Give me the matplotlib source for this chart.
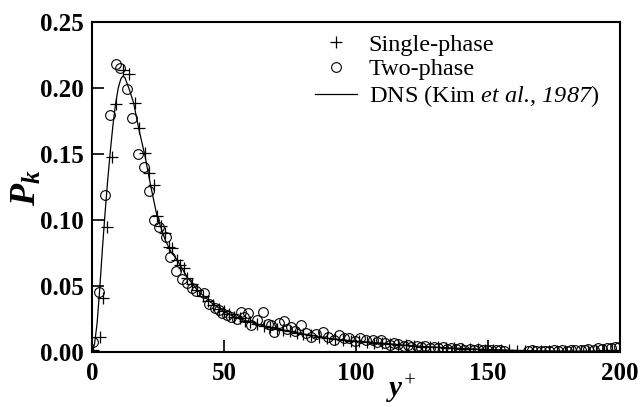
import matplotlib
matplotlib.use('Agg')
import matplotlib.pyplot as plt

plt.rcParams['font.family'] = ['Liberation Serif', 'DejaVu Serif']
plt.rcParams['mathtext.fontset'] = 'custom'
plt.rcParams['mathtext.rm'] = 'Liberation Serif'
plt.rcParams['mathtext.it'] = 'Liberation Serif:italic'
plt.rcParams['mathtext.sf'] = 'Liberation Serif:italic'
plt.rcParams['mathtext.bf'] = 'Liberation Serif:bold'
plt.rcParams['mathtext.bfit'] = 'Liberation Serif:italic:bold'

# DNS reference curve (Kim et al., 1987)
dns_y = [0, 1, 2, 3, 4, 5, 6, 7, 8, 9, 10, 11, 11.7, 12.5, 14, 15.8, 17.7,
         20.2, 22.2, 24.7, 27.8, 30, 32.3, 36.1, 40, 45, 50, 55, 60, 65, 70,
         75, 80, 90, 100, 110, 120, 130, 140, 150, 160, 170, 180, 190, 200]
dns_pk = [0, 0.006, 0.022, 0.048, 0.078, 0.105, 0.13, 0.152, 0.172, 0.188,
          0.2, 0.207, 0.209, 0.208, 0.2, 0.189, 0.170, 0.148, 0.127, 0.103,
          0.085, 0.076, 0.070, 0.057, 0.047, 0.038, 0.031, 0.026, 0.023,
          0.020, 0.018, 0.016, 0.014, 0.0105, 0.0085, 0.007, 0.0052, 0.004,
          0.003, 0.0022, 0.0016, 0.0012, 0.001, 0.0009, 0.0008]

# single-phase LES (plus markers)
sp_y = [0.5, 3, 4.3, 5.8, 7.5, 9.1, 11.9, 14.2, 16.5, 17.7, 20.2, 21.5, 23.4,
        24.7, 26.2, 27.8, 29.2, 30.4, 32.3, 33.5, 34.8, 36.1, 38, 40, 42, 44,
        46, 48, 50, 52, 54, 56, 58, 60, 62.5, 65, 67.5, 70, 72.5, 75, 77.5,
        80, 83, 86, 89, 92, 95, 98, 101, 104, 107, 110, 113, 116, 119, 122,
        125, 128, 131, 134, 137, 140, 143, 146, 149, 152, 155, 158, 161, 164,
        167, 170, 173, 176, 179, 182, 185, 188, 191, 194, 197, 200]
sp_pk = [0.002, 0.012, 0.041, 0.095, 0.148, 0.188, 0.214, 0.211, 0.189,
         0.170, 0.151, 0.136, 0.127, 0.103, 0.096, 0.090, 0.080, 0.0788,
         0.070, 0.066, 0.0636, 0.056, 0.052, 0.047, 0.043, 0.039, 0.036,
         0.033, 0.031, 0.029, 0.027, 0.026, 0.024, 0.023, 0.0215, 0.020,
         0.019, 0.018, 0.017, 0.016, 0.015, 0.014, 0.013, 0.012, 0.011,
         0.0105, 0.0098, 0.009, 0.0085, 0.008, 0.0075, 0.007, 0.0065, 0.006,
         0.0055, 0.005, 0.0045, 0.0042, 0.0038, 0.0035, 0.003, 0.0028,
         0.0025, 0.0023, 0.002, 0.0018, 0.0016, 0.0015, 0.0014, 0.0013,
         0.0012, 0.0012, 0.0011, 0.0011, 0.001, 0.001, 0.0011, 0.0012,
         0.0013, 0.0015, 0.0018, 0.002]

# two-phase LES (open circles)
tp_y = [0.5, 2.9, 4.9, 6.8, 9.0, 10.8, 13.3, 15.2, 17.5, 19.6, 21.5, 23.4,
        25.3, 27.9, 29.7, 31.9, 34.2, 36.1, 38, 39.6, 42.4, 44.3, 46.8, 48.2,
        49.4, 51, 52.5, 54.8, 56.3, 57.5, 59.1, 60.4, 62.7, 64.8, 66.7, 67.7,
        68.8, 70.9, 72.8, 74, 75.3, 77, 79.1, 81, 83, 85, 87.4, 89.5, 91.8,
        93.7, 95.5, 97.5, 99.5, 101.5, 103.8, 106.3, 108, 109.5, 111, 112.7,
        114.5, 116, 118, 119.5, 121, 123, 124.5, 126, 128, 129.5, 131, 133,
        134.5, 136, 138, 139.5, 141, 143, 144.5, 146, 148, 149.5, 151, 153,
        154.5, 156, 165, 166.5, 168, 170, 171.5, 173, 175, 176.5, 178, 180,
        181.5, 183, 185, 186.5, 188, 190, 191.5, 193, 195, 196.5, 198, 199.5]
tp_pk = [0.0078, 0.046, 0.119, 0.180, 0.218, 0.215, 0.199, 0.177, 0.150,
         0.140, 0.122, 0.100, 0.095, 0.0876, 0.0724, 0.0618, 0.0553, 0.0523,
         0.049, 0.0464, 0.0447, 0.0366, 0.034, 0.032, 0.030, 0.028, 0.0265,
         0.025, 0.0308, 0.027, 0.030, 0.0207, 0.0245, 0.0308, 0.0212, 0.0207,
         0.0156, 0.0224, 0.0237, 0.018, 0.0194, 0.016, 0.0207, 0.015, 0.0118,
         0.014, 0.0156, 0.012, 0.0098, 0.013, 0.011, 0.0106, 0.009, 0.011,
         0.0093, 0.0098, 0.008, 0.0093, 0.007, 0.0055, 0.0068, 0.0062,
         0.0048, 0.0058, 0.0045, 0.005, 0.0038, 0.0048, 0.0035, 0.0042,
         0.003, 0.0038, 0.0028, 0.0035, 0.0025, 0.003, 0.0022, 0.0028,
         0.002, 0.0025, 0.0018, 0.0022, 0.0015, 0.0018, 0.0015, 0.0012,
         0.0012, 0.0015, 0.001, 0.0013, 0.0008, 0.0012, 0.0015, 0.001,
         0.0018, 0.0012, 0.002, 0.0015, 0.0022, 0.0018, 0.0025, 0.002, 0.003,
         0.0025, 0.0035, 0.003, 0.0038, 0.004]

fig = plt.figure(figsize=(6.42, 4.07), dpi=100)
ax = fig.add_axes([0.143, 0.134, 0.823, 0.812])

ax.plot(sp_y, sp_pk, linestyle='None', marker='+', color='black',
        markersize=8, markeredgewidth=0.9, label='Single-phase')
ax.plot(tp_y, tp_pk, linestyle='None', marker='o', markerfacecolor='none',
        markeredgecolor='black', markersize=7, markeredgewidth=0.8,
        label='Two-phase')
ax.plot(dns_y, dns_pk, color='black', linewidth=0.9,
        label=r'DNS (Kim $\mathsf{et\ al.}\!$, $\mathsf{1987}$)')

ax.set_xlim(0, 200)
ax.set_ylim(0, 0.25)
ax.set_xticks([0, 50, 100, 150, 200])
ax.set_yticks([0, 0.05, 0.10, 0.15, 0.20, 0.25])
ax.set_yticklabels(['0.00', '0.05', '0.10', '0.15', '0.20', '0.25'])

ax.tick_params(direction='in', length=8.5, width=1.2, labelsize=18, pad=6)
ax.tick_params(axis='x', pad=7)
for lab in ax.get_xticklabels() + ax.get_yticklabels():
    lab.set_fontweight('bold')
for spine in ax.spines.values():
    spine.set_linewidth(1.5)

ax.set_xlabel(r'$\mathbfit{y}^{\mathsf{+}}$', fontsize=21)
ax.xaxis.set_label_coords(0.585, -0.063)
ax.set_ylabel(r'$\mathbfit{P_k}$', fontsize=26, labelpad=-3)

ax.legend(loc='upper right', frameon=False, fontsize=17.5, handlelength=1.7,
          handletextpad=0.5, labelspacing=0.12, borderaxespad=0, borderpad=0,
          bbox_to_anchor=(0.96, 0.965))

fig.savefig('out.png', dpi=100)
